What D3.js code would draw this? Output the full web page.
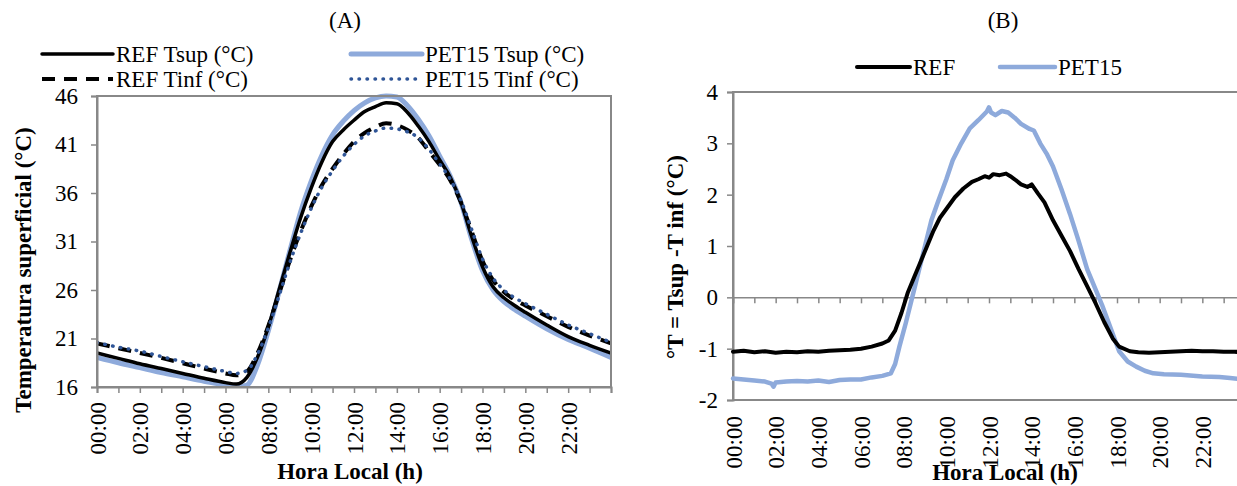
<!DOCTYPE html>
<html>
<head>
<meta charset="utf-8">
<script src="https://cdn.jsdelivr.net/npm/d3@7"></script>
<style>
body { margin: 0; background: #fff; }
text { font-family: "Liberation Serif", "Times New Roman", serif; fill: #000; }
.axis path, .axis line { stroke: #888; }
</style>
</head>
<body>
<svg id="chart" width="1237" height="486"></svg>
<script>
// chart A: hours and surface temperatures (°C)
const hoursA = [0,1,2,3,4,5,6,6.5,7,7.5,8,8.5,9,9.5,10,10.5,11,11.5,12,12.5,13,13.5,14,14.5,15,15.5,16,16.5,17,17.5,18,18.5,19,19.5,20,21,22,23,24];
const refTsup = [19.5,18.95,18.4,17.9,17.4,16.9,16.45,16.3,17.0,19.1,22.2,26.0,29.8,33.4,36.5,39.2,41.3,42.5,43.5,44.4,44.9,45.3,45.2,44.3,42.9,41.3,39.4,37.6,35.0,31.5,28.4,26.3,25.2,24.4,23.7,22.4,21.2,20.3,19.5];
const pet15Tsup = [19.05,18.5,18.0,17.5,17.05,16.6,16.2,16.0,16.2,18.3,21.8,25.8,30.0,34.0,37.2,39.9,42.0,43.4,44.5,45.3,45.8,46.0,45.9,45.0,43.6,41.9,39.8,37.7,35.0,31.2,28.0,26.0,24.8,24.0,23.3,22.0,20.9,20.0,19.05];
const refTinf = [20.5,20.0,19.5,19.0,18.45,17.9,17.4,17.2,17.6,19.5,22.3,25.6,29.0,32.0,34.6,36.8,38.5,40.0,41.3,42.2,42.8,43.2,43.0,42.5,41.7,40.3,38.9,37.3,35.0,32.0,29.0,27.0,25.8,25.0,24.4,23.3,22.2,21.3,20.5];
const pet15Tinf = [20.6,20.1,19.7,19.15,18.6,18.1,17.6,17.4,17.7,19.4,22.1,25.4,28.8,31.8,34.4,36.6,38.3,39.8,41.0,41.9,42.4,42.7,42.6,42.3,41.7,40.5,39.0,37.4,35.2,32.2,29.2,27.2,26.0,25.2,24.6,23.5,22.4,21.5,20.6];

// chart B: Tsup - Tinf (°C)
const hoursRef = [0,0.5,1,1.5,2,2.5,3,3.5,4,4.5,5,5.5,6,6.5,7,7.3,7.6,7.9,8.2,8.5,8.8,9.1,9.4,9.7,10,10.4,10.8,11.2,11.5,11.8,12,12.2,12.5,12.8,13,13.2,13.5,13.8,14,14.3,14.6,15,15.4,15.8,16.2,16.6,17,17.4,17.8,18.1,18.6,19,19.5,20,20.5,21,21.5,22,22.5,23,23.5,24];
const dRef = [-1.06,-1.04,-1.07,-1.05,-1.08,-1.06,-1.07,-1.05,-1.06,-1.04,-1.03,-1.02,-1.0,-0.96,-0.9,-0.84,-0.65,-0.3,0.1,0.4,0.7,1.0,1.3,1.55,1.72,1.95,2.12,2.25,2.3,2.36,2.33,2.4,2.38,2.41,2.36,2.3,2.2,2.15,2.2,2.02,1.85,1.5,1.2,0.9,0.55,0.22,-0.12,-0.48,-0.8,-0.96,-1.05,-1.07,-1.08,-1.07,-1.06,-1.05,-1.04,-1.05,-1.05,-1.06,-1.06,-1.07];
const hoursPet = [0,0.5,1,1.5,1.8,1.9,2,2.5,3,3.5,4,4.5,5,5.5,6,6.5,7,7.4,7.6,7.8,8.1,8.4,8.7,9,9.3,9.6,10,10.3,10.7,11.1,11.5,11.9,12,12.1,12.3,12.6,12.9,13.2,13.5,13.9,14.1,14.4,14.7,15,15.4,15.8,16.2,16.6,17,17.3,17.7,18.1,18.5,18.9,19.3,19.7,20.2,21,22,22.8,23.3,24];
const dPet15 = [-1.58,-1.6,-1.62,-1.64,-1.68,-1.74,-1.66,-1.64,-1.63,-1.64,-1.62,-1.65,-1.61,-1.6,-1.6,-1.56,-1.53,-1.48,-1.3,-0.96,-0.5,0.0,0.5,1.0,1.5,1.85,2.3,2.67,3.0,3.29,3.45,3.62,3.7,3.6,3.55,3.63,3.6,3.5,3.38,3.28,3.25,3.0,2.8,2.55,2.1,1.62,1.1,0.55,0.15,-0.15,-0.6,-1.05,-1.25,-1.35,-1.43,-1.48,-1.5,-1.51,-1.54,-1.55,-1.57,-1.6];

const ticksA = [16,21,26,31,36,41,46];
const ticksB = [-2,-1,0,1,2,3,4];
const hourTicks = d3.range(0, 25, 1);
const hourLabels = d3.range(0, 24, 2);

const svg = d3.select('#chart');
const fmtHour = h => (h < 10 ? '0' : '') + h + ':00';
const FONT = 23;

function zip(xs, ys) { return xs.map((h, i) => [h, ys[i]]); }

function drawTitle(x, y, t) {
  svg.append('text').attr('x', x).attr('y', y).attr('text-anchor', 'middle')
    .style('font-size', FONT + 'px').text(t);
}

function legendItem(x, y, len, style, label) {
  const l = svg.append('line').attr('x1', x).attr('x2', x + len).attr('y1', y).attr('y2', y)
    .attr('stroke', style.color).attr('stroke-width', style.width)
    .attr('stroke-linecap', style.cap || 'round');
  if (style.dash) l.attr('stroke-dasharray', style.dash);
  svg.append('text').attr('x', x + len + 3).attr('y', y).attr('dy', '0.35em')
    .style('font-size', FONT + 'px').text(label);
}

const styles = {
  refSup: { color: '#000', width: 3.5 },
  petSup: { color: '#8eaadb', width: 5 },
  refInf: { color: '#000', width: 4, dash: '13,9', cap: 'butt' },
  petInf: { color: '#2f5597', width: 3.5, dash: '0.5,7.5' },
  refB: { color: '#000', width: 4 },
  petB: { color: '#8eaadb', width: 4.5 }
};

// ---------- chart A ----------
const A = { left: 97, right: 611, top: 96, bottom: 387 };
const xA = d3.scaleLinear().domain([0, 24]).range([A.left, A.right]);
const yA = d3.scaleLinear().domain([16, 46]).range([A.bottom, A.top]);

const gA = svg.append('g');
const lineA = d3.line().x(d => xA(d[0])).y(d => yA(d[1])).curve(d3.curveMonotoneX);

svg.append('clipPath').attr('id', 'clipA').append('rect')
  .attr('x', A.left).attr('y', A.top - 3).attr('width', A.right - A.left).attr('height', A.bottom - A.top + 3);

const seriesA = [
  { data: zip(hoursA, pet15Tsup), s: styles.petSup },
  { data: zip(hoursA, refTsup), s: styles.refSup },
  { data: zip(hoursA, refTinf), s: styles.refInf },
  { data: zip(hoursA, pet15Tinf), s: styles.petInf }
];
seriesA.forEach(d => {
  const p = gA.append('path').datum(d.data).attr('d', lineA).attr('fill', 'none')
    .attr('clip-path', 'url(#clipA)')
    .attr('stroke', d.s.color).attr('stroke-width', d.s.width)
    .attr('stroke-linecap', d.s.cap || 'round').attr('stroke-linejoin', 'round');
  if (d.s.dash) p.attr('stroke-dasharray', d.s.dash);
});

gA.append('rect').attr('x', A.left).attr('y', A.top).attr('width', A.right - A.left)
  .attr('height', A.bottom - A.top).attr('fill', 'none').attr('stroke', '#888').attr('stroke-width', 2);

const axYA = gA.append('g').attr('class', 'axis').attr('transform', `translate(${A.left},0)`)
  .call(d3.axisLeft(yA).tickValues(ticksA).tickSize(6).tickPadding(13).tickFormat(d => String(d)));
axYA.select('.domain').attr('stroke-width', 2);
axYA.selectAll('line').attr('stroke-width', 1.5);
axYA.selectAll('text').style('font-size', FONT + 'px');

const axXA = gA.append('g').attr('class', 'axis').attr('transform', `translate(0,${A.bottom})`)
  .call(d3.axisBottom(xA).tickValues(hourTicks).tickSize(6)
    .tickFormat(h => hourLabels.includes(h) ? fmtHour(h) : ''));
axXA.select('.domain').attr('stroke-width', 2);
axXA.selectAll('line').attr('stroke-width', 1.5);
axXA.selectAll('text').style('font-size', FONT + 'px')
  .attr('transform', 'rotate(-90)').attr('x', -15).attr('y', 0).attr('dy', '0.35em')
  .style('text-anchor', 'end');

svg.append('text').attr('transform', 'translate(31,270) rotate(-90)').attr('text-anchor', 'middle')
  .style('font-size', FONT + 'px').style('font-weight', 'bold').text('Temperatura superficial (°C)');
svg.append('text').attr('x', 350).attr('y', 479).attr('text-anchor', 'middle')
  .style('font-size', FONT + 'px').style('font-weight', 'bold').text('Hora Local (h)');

drawTitle(345, 28, '(A)');
legendItem(42, 54, 71, styles.refSup, 'REF Tsup (°C)');
legendItem(42, 79, 71, styles.refInf, 'REF Tinf (°C)');
legendItem(351, 54, 71, styles.petSup, 'PET15 Tsup (°C)');
legendItem(351, 79, 71, styles.petInf, 'PET15 Tinf (°C)');

// ---------- chart B ----------
const B = { left: 733, right: 1245, top: 92, bottom: 400 };
const xB = d3.scaleLinear().domain([0, 24]).range([B.left, B.right]);
const yB = d3.scaleLinear().domain([-2, 4]).range([B.bottom, B.top]);
const gB = svg.append('g');

gB.append('rect').attr('x', B.left).attr('y', B.top).attr('width', B.right - B.left)
  .attr('height', B.bottom - B.top).attr('fill', 'none').attr('stroke', '#888').attr('stroke-width', 2);

const axYB = gB.append('g').attr('class', 'axis').attr('transform', `translate(${B.left},0)`)
  .call(d3.axisLeft(yB).tickValues(ticksB).tickSize(6).tickPadding(9).tickFormat(d => String(d)));
axYB.select('.domain').attr('stroke-width', 2);
axYB.selectAll('line').attr('stroke-width', 1.5);
axYB.selectAll('text').style('font-size', FONT + 'px');

// tick marks on the zero line
const axZero = gB.append('g').attr('class', 'axis').attr('transform', `translate(0,${yB(0)})`)
  .call(d3.axisBottom(xB).tickValues(hourTicks).tickSize(6).tickFormat(''));
axZero.select('.domain').attr('stroke-width', 1.5);
axZero.selectAll('line').attr('stroke-width', 1.5);

// tick labels at the bottom
const axLabB = gB.append('g').attr('transform', `translate(0,${B.bottom})`)
  .call(d3.axisBottom(xB).tickValues(hourLabels).tickSize(0).tickFormat(fmtHour));
axLabB.select('.domain').remove();
axLabB.selectAll('text').style('font-size', FONT + 'px')
  .attr('transform', 'rotate(-90)').attr('x', -16).attr('y', 0).attr('dy', '0.35em')
  .style('text-anchor', 'end');

const lineB = d3.line().x(d => xB(d[0])).y(d => yB(d[1]));
[{ data: zip(hoursPet, dPet15), s: styles.petB }, { data: zip(hoursRef, dRef), s: styles.refB }].forEach(d => {
  gB.append('path').datum(d.data).attr('d', lineB).attr('fill', 'none')
    .attr('stroke', d.s.color).attr('stroke-width', d.s.width)
    .attr('stroke-linejoin', 'round').attr('stroke-linecap', 'round');
});

svg.append('text').attr('transform', 'translate(683,257) rotate(-90)').attr('text-anchor', 'middle')
  .style('font-size', FONT + 'px').style('font-weight', 'bold').text('°T = Tsup -T inf (°C)');
svg.append('text').attr('x', 1005).attr('y', 480).attr('text-anchor', 'middle')
  .style('font-size', FONT + 'px').style('font-weight', 'bold').text('Hora Local (h)');

drawTitle(1003, 28, '(B)');
legendItem(857, 67, 53, styles.refB, 'REF');
legendItem(1000, 67, 55, styles.petB, 'PET15');
</script>
</body>
</html>
